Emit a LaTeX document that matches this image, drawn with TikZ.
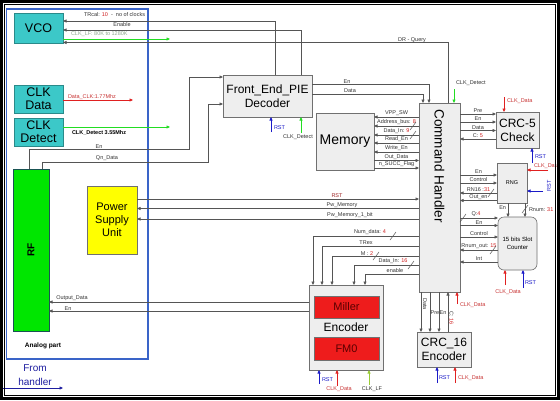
\documentclass[tikz,border=0pt]{standalone}
\usepackage{fontspec}
\setmainfont{Liberation Sans}
\usetikzlibrary{arrows.meta}
\definecolor{lncol}{HTML}{555555}
\definecolor{lblcol}{HTML}{333333}
\definecolor{numred}{HTML}{D02020}
\definecolor{redlbl}{HTML}{C83232}
\definecolor{redarr}{HTML}{E02020}
\definecolor{bluearr}{HTML}{1A1AC8}
\definecolor{greenarr}{HTML}{22DD22}
\definecolor{lfgreen}{HTML}{99CC33}
\definecolor{lflbl}{HTML}{8FA88F}
\definecolor{boxgray}{HTML}{EEEEEE}
\definecolor{boxdraw}{HTML}{707070}
\definecolor{tealf}{HTML}{3CC8C8}
\definecolor{teald}{HTML}{2A8A8A}
\definecolor{rfgreen}{HTML}{00E600}
\definecolor{psuyel}{HTML}{FFFF00}
\definecolor{redbox}{HTML}{EE1C1C}
\definecolor{redtxt}{HTML}{5A0000}
\definecolor{analogblue}{HTML}{3A64C8}
\definecolor{handblue}{HTML}{1E1EA0}
\tikzset{slashmark/.pic={\draw[lncol,line width=0.5pt] (-3,4) -- (3,-4);}}
\begin{document}
\begin{tikzpicture}[x=1pt,y=-1pt,
  ln/.style={draw=lncol, line width=0.6pt},
  arr/.style={ln, -{Triangle[length=3.5pt,width=3pt]}},
  redc/.style={draw=redarr, line width=0.6pt, -{Triangle[length=3.5pt,width=3pt]}},
  bluec/.style={draw=bluearr, line width=0.6pt, -{Triangle[length=3.5pt,width=3pt]}},
  greenc/.style={draw=greenarr, line width=0.6pt, -{Triangle[length=3.5pt,width=3pt]}},
  lbl/.style={font=\fontsize{5.5}{6}\selectfont, text=lblcol, inner sep=0.8pt},
  rlbl/.style={lbl, text=redlbl},
  blbl/.style={lbl, text=bluearr},
  blk/.style={draw=boxdraw, fill=boxgray, line width=0.6pt, anchor=north west, inner sep=1pt, align=center, outer sep=0pt},
  tealbox/.style={blk, draw=teald, fill=tealf, font=\fontsize{12.5}{13}\selectfont},
  redbx/.style={blk, draw=boxdraw, fill=redbox, text=redtxt, font=\fontsize{11}{12}\selectfont}
]
\useasboundingbox (0,0) rectangle (560,400);
\fill[white] (0,0) rectangle (560,400);

% analog part frame
\draw[analogblue, line width=1.1pt] (6.5,9) rectangle (148,359);

% blocks
\node[tealbox, minimum width=49pt, minimum height=30pt] (vco) at (14,13) {VCO};
\node[tealbox, minimum width=49pt, minimum height=28pt] (clkd) at (14,85) {CLK\\Data};
\node[tealbox, minimum width=49pt, minimum height=28pt] (clkdet) at (14,118) {CLK\\Detect};
\node[blk, draw=teald!60!black, fill=rfgreen, minimum width=36pt, minimum height=162pt] (rf) at (13,169) {};
\node[rotate=90, font=\fontsize{10}{12}\selectfont\bfseries] (rftxt) at (rf.center) {RF};
\node[blk, draw=boxdraw, fill=psuyel, minimum width=50pt, minimum height=68pt, font=\fontsize{11}{13}\selectfont] (psu) at (87,186) {Power\\Supply\\Unit};
\node[blk, minimum width=89pt, minimum height=42pt, font=\fontsize{12}{14}\selectfont] (fe) at (223,75) {Front\_End\_PIE\\Decoder};
\node[blk, minimum width=58pt, minimum height=57pt, font=\fontsize{14}{16}\selectfont] (mem) at (316,113) {Memory};
\node[blk, minimum width=41pt, minimum height=189pt] (ch) at (419,103) {};
\node[rotate=-90, font=\fontsize{13.5}{15}\selectfont] (chtxt) at (ch.center |- 0,166) {Command Handler};
\node[blk, minimum width=43pt, minimum height=36pt, font=\fontsize{12}{14}\selectfont] (crc5) at (496,112) {CRC-5\\Check};
\node[blk, minimum width=30pt, minimum height=40pt, font=\fontsize{5.5}{6}\selectfont] (rng) at (497,163) {RNG};
\node[blk, rounded corners=6pt, minimum width=39pt, minimum height=53pt, font=\fontsize{6}{8}\selectfont] (slot) at (498,217) {15 bits Slot\\Counter};
\node[blk, minimum width=74pt, minimum height=85pt] (enc) at (309,285) {};
\node[redbx, minimum width=65pt, minimum height=22pt] (miller) at (314,296) {Miller};
\node[font=\fontsize{12}{13}\selectfont] (enctxt) at (enc.center |- 0,327) {Encoder};
\node[redbx, minimum width=65pt, minimum height=23pt] (fm0) at (314,337) {FM0};
\node[blk, minimum width=54pt, minimum height=35pt, font=\fontsize{12}{13.5}\selectfont] (crc16) at (417,332) {CRC\_16\\Encoder};

% free ends
\coordinate (lfend) at (170,39);
\coordinate (dclkend) at (133,100);
\coordinate (cdetend) at (170,127);
\coordinate (ferst) at (271,132);
\coordinate (fedet) at (301,133);
\coordinate (chdet) at (454,89);
\coordinate (crc5clk) at (504,97);
\coordinate (crc5rst) at (532,163);
\coordinate (rngclk) at (548,170);
\coordinate (rngrst) at (543,191);
\coordinate (slotclk) at (505,285);
\coordinate (slotrst) at (523,288);
\coordinate (encrst) at (319,384);
\coordinate (encclk) at (337,386);
\coordinate (enclf) at (369,385);
\coordinate (chclk) at (457,304);
\coordinate (c16rst) at (437,383);
\coordinate (c16clk) at (455,383);
\coordinate (handA) at (0,388);
\coordinate (handB) at (63,388);

% VCO connections
\draw[arr] (fe.north -| 275,0) |- (vco.east |- 0,21);
\node[lbl, anchor=base west] (trlbl) at (83,16) {TRcal: \textcolor{numred}{10}\ \ -\ \ no of clocks};
\draw[arr] (fe.north -| 301,0) |- (vco.east |- 0,30);
\node[lbl, anchor=base] (enlbl) at (122,26) {Enable};
\draw[greenc] (vco.east |- 0,39) -- (lfend);
\node[lbl, text=lflbl, anchor=base west] (lflbl) at (70,35) {CLK\_LF: 80K to 1280K};
\draw[arr] (ch.north -| 448,0) |- (vco.east |- 0,42.5);
\node[lbl, anchor=base] (drlbl) at (412,41) {DR - Query};

\draw[redc] (clkd.east |- 0,100) -- (dclkend);
\node[rlbl, anchor=base west] (dclklbl) at (67,98) {Data\_CLK:1.77Mhz};
\draw[greenc] (clkdet.east |- 0,127) -- (cdetend);
\node[lbl, text=black, font=\fontsize{5.5}{6}\selectfont\bfseries, anchor=base west] (cdetlbl) at (71,134) {CLK\_Detect 3.55Mhz};

% RF -> Front end
\draw[arr] (rf.north -| 29,0) |- (189,149) |- (fe.west |- 0,77);
\node[lbl, above] (rfen) at (99,149) {En};
\draw[arr] (rf.north -| 42,0) |- (208,162) |- (fe.west |- 0,104);
\node[lbl, above] (rfqn) at (107,162) {Qn\_Data};

% Front end -> CH
\draw[arr] (fe.east |- 0,84) -| (ch.north -| 429,0);
\node[lbl, above] (feen) at (347,84) {En};
\draw[arr] (fe.east |- 0,94) -| (ch.north -| 423,0);
\node[lbl, above] (fedata) at (350,94) {Data};
\draw[bluec] (ferst) -- (fe.south -| ferst);
\node[blbl, anchor=west] (ferstl) at (273,128) {RST};
\draw[greenc] (fedet) -- (fe.south -| fedet);
\node[lbl, anchor=north] (fedetl) at (298,134) {CLK\_Detect};
\draw[greenc] (chdet) -- (ch.north -| chdet);
\node[lbl, anchor=base west] (chdetl) at (455,84) {CLK\_Detect};

% Memory
\draw[arr] (ch.west |- 0,117) -- node[lbl,above]{VPP\_SW} (mem.east |- 0,117);
\draw[arr] (ch.west |- 0,126) -- node[lbl,above]{Address\_bus: \textcolor{numred}{8}} (mem.east |- 0,126);
\pic at (413,126) {slashmark};
\draw[arr] (ch.west |- 0,135) -- node[lbl,above]{Data\_In: \textcolor{numred}{9}} (mem.east |- 0,135);
\pic at (413,135) {slashmark};
\draw[arr] (ch.west |- 0,143) -- node[lbl,above]{Read\_En} (mem.east |- 0,143);
\draw[arr] (ch.west |- 0,152) -- node[lbl,above]{Write\_En} (mem.east |- 0,152);
\draw[arr] (mem.east |- 0,160.5) -- node[lbl,above]{Out\_Data} (ch.west |- 0,160.5);
\draw[arr] (mem.east |- 0,168) -- node[lbl,above]{n\_SUCC\_Flag} (ch.west |- 0,168);

% CRC-5
\draw[arr] (ch.east |- 0,114) -- node[lbl,above]{Pre} (crc5.west |- 0,114);
\draw[arr] (ch.east |- 0,122) -- node[lbl,above]{En} (crc5.west |- 0,122);
\draw[arr] (ch.east |- 0,130.5) -- node[lbl,above]{Data} (crc5.west |- 0,130.5);
\draw[arr] (crc5.west |- 0,139) -- node[lbl,above]{C: \textcolor{numred}{5}} (ch.east |- 0,139);
\draw[redc] (crc5clk) -- (crc5.north -| crc5clk);
\node[rlbl, anchor=west] (crc5clkl) at (506,101) {CLK\_Data};
\draw[bluec] (crc5rst) -- (crc5.south -| crc5rst);
\node[blbl, anchor=west] (crc5rstl) at (534,157) {RST};

% RNG
\draw[arr] (ch.east |- 0,175) -- node[lbl,above]{En} (rng.west |- 0,175);
\draw[arr] (ch.east |- 0,183) -- node[lbl,above]{Control} (rng.west |- 0,183);
\draw[arr] (rng.west |- 0,193) -- node[lbl,above]{RN16 :\textcolor{numred}{31}} (ch.east |- 0,193);
\pic at (491,193) {slashmark};
\draw[arr] (rng.west |- 0,200.5) -- node[lbl,above]{Out\_en} (ch.east |- 0,200.5);
\draw[redc] (rngclk) -- (rng.east |- rngclk);
\node[rlbl, anchor=west] (rngclkl) at (533,166) {CLK\_Data};
\draw[bluec] (rngrst) -- (rng.east |- rngrst);
\node[blbl, rotate=90] (rngrstl) at (549,186) {RST};

% RNG -> slot
\draw[arr] (rng.south -| 508,0) -- (slot.north -| 508,0);
\node[lbl, anchor=east] (rngenl) at (507,208) {En};
\draw[arr] (rng.south -| 525,0) -- (slot.north -| 525,0);
\pic at (525,209) {slashmark};
\node[lbl, anchor=west] (rnuml) at (528,210) {Rnum: \textcolor{numred}{31}};

% slot counter
\draw[arr] (ch.east |- 0,218) -- (slot.west |- 0,218);
\node[lbl, above] (ql) at (476,218) {Q:\textcolor{numred}{4}};
\pic at (463,218) {slashmark};
\draw[arr] (ch.east |- 0,225.5) -- node[lbl,above]{En} (slot.west |- 0,225.5);
\draw[arr] (ch.east |- 0,237) -- node[lbl,above]{Control} (slot.west |- 0,237);
\draw[arr] (slot.west |- 0,250) -- node[lbl,above]{Rnum\_out: \textcolor{numred}{15}} (ch.east |- 0,250);
\pic at (493,250) {slashmark};
\draw[arr] (slot.west |- 0,262) -- node[lbl,above]{Int} (ch.east |- 0,262);
\draw[redc] (slotclk) -- (slot.south -| slotclk);
\node[rlbl, anchor=north] (slotclkl) at (508,289) {CLK\_Data};
\draw[bluec] (slotrst) -- (slot.south -| slotrst);
\node[blbl, anchor=west] (slotrstl) at (524,283) {RST};

% PSU
\draw[arr] (psu.east |- 0,199) -- (ch.west |- 0,199);
\node[lbl, text=redlbl!80!black, above] (psurst) at (337,199) {RST};
\draw[arr] (ch.west |- 0,208.5) -- (psu.east |- 0,208.5);
\node[lbl, above] (pwm) at (342,208.5) {Pw\_Memory};
\draw[arr] (ch.west |- 0,219) -- (psu.east |- 0,219);
\node[lbl, above] (pwm1) at (350,219) {Pw\_Memory\_1\_bit};

% encoder inputs
\draw[arr] (ch.west |- 0,236) -| (enc.north -| 313,0);
\node[lbl, above] (numl) at (370,236) {Num\_data: \textcolor{numred}{4}};
\pic at (393,236) {slashmark};
\draw[arr] (ch.west |- 0,246) -| (enc.north -| 322,0);
\node[lbl, above] (trexl) at (366,246) {TRex};
\draw[arr] (ch.west |- 0,256) -| (enc.north -| 332,0);
\node[lbl, above] (ml) at (367,256) {M : \textcolor{numred}{2}};
\pic at (376,256) {slashmark};
\draw[arr] (ch.west |- 0,265) -| (enc.north -| 354,0);
\node[lbl, above] (dil) at (393,265) {Data\_In: \textcolor{numred}{16}};
\pic at (411,265) {slashmark};
\draw[arr] (ch.west |- 0,274) -| (enc.north -| 365,0);
\node[lbl, above] (enal) at (395,274) {enable};

% encoder -> RF
\draw[arr] (enc.west |- 0,302) -- (rf.east |- 0,302);
\node[lbl, above] (outdl) at (72,302) {Output\_Data};
\draw[arr] (enc.west |- 0,311) -- (rf.east |- 0,311);
\node[lbl, above] (rfenl) at (68,311) {En};

% encoder bottom
\draw[bluec] (encrst) -- (enc.south -| encrst);
\node[blbl, anchor=west] (encrstl) at (321,380) {RST};
\draw[redc] (encclk) -- (enc.south -| encclk);
\node[rlbl] (encclkl) at (339,389) {CLK\_Data};
\draw[draw=lfgreen, line width=0.6pt, -{Triangle[length=3.5pt,width=3pt]}] (enclf) -- (enc.south -| enclf);
\node[lbl] (enclfl) at (372,389) {CLK\_LF};

% CH -> CRC16
\draw[arr] (ch.south -| 421,0) -- (crc16.north -| 421,0);
\draw[arr] (ch.south -| 430,0) -- (crc16.north -| 430,0);
\draw[arr] (ch.south -| 439,0) -- (crc16.north -| 439,0);
\draw[arr] (crc16.north -| 448,0) -- (ch.south -| 448,0);
\node[lbl, rotate=-90] (c16data) at (425,304) {Data};
\node[lbl, anchor=base west, inner sep=0pt] (c16pre) at (430.5,314) {Pre};
\node[lbl, anchor=base west, inner sep=0pt] (c16en) at (439.5,314) {En};
\node[lbl, rotate=-90] (c16c) at (451.5,318) {C: \textcolor{numred}{16}};
\draw[redc] (chclk) -- (ch.south -| chclk);
\node[rlbl, anchor=west] (chclkl) at (459,305) {CLK\_Data};
\draw[bluec] (c16rst) -- (crc16.south -| c16rst);
\node[blbl, anchor=west] (c16rstl) at (438,378) {RST};
\draw[redc] (c16clk) -- (crc16.south -| c16clk);
\node[rlbl, anchor=west] (c16clkl) at (457,378) {CLK\_Data};

% labels
\node[font=\fontsize{6.5}{8}\selectfont\bfseries] (analogl) at (43,346) {Analog part};
\node[text=handblue, align=center, font=\fontsize{10}{13.5}\selectfont] (handl) at (35,375) {From\\handler};
\draw[draw=handblue, line width=0.6pt, -{Triangle[length=3.5pt,width=3pt]}] (handA) -- (handB);

% outer frame
\draw[black, line width=3pt] (1.5,1.5) rectangle (558.5,398.5);
\draw[black, line width=0.6pt] (4.5,4.5) rectangle (555.5,395.5);
\end{tikzpicture}
\end{document}
